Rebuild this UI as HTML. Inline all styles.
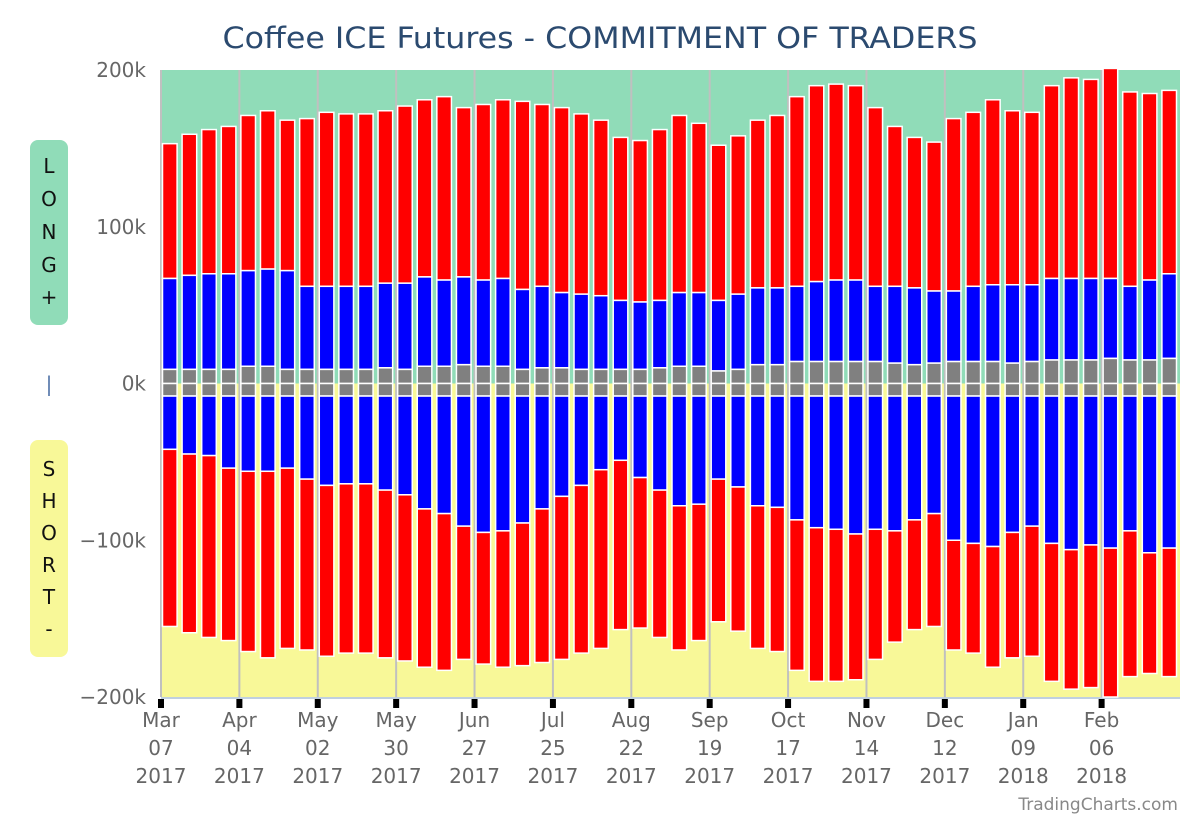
<!DOCTYPE html>
<html><head><meta charset="utf-8">
<style>
html,body{margin:0;padding:0;background:#fff;}
svg{display:block;font-family:"DejaVu Sans","Liberation Sans",sans-serif;}
</style></head>
<body>
<svg id="chart" width="1200" height="820" viewBox="0 0 1200 820">
<text x="600" y="48" text-anchor="middle" font-size="29" fill="#2b4a6f" textLength="755" lengthAdjust="spacingAndGlyphs" font-family="'DejaVu Sans Condensed','DejaVu Sans',sans-serif">Coffee ICE Futures - COMMITMENT OF TRADERS</text>
<g>
<rect x="30" y="140" width="38" height="185" rx="8" fill="#90dcb8"/>
<text x="49" font-size="20" fill="#111" text-anchor="middle"><tspan x="49" y="173">L</tspan><tspan x="49" y="206">O</tspan><tspan x="49" y="239">N</tspan><tspan x="49" y="272">G</tspan><tspan x="49" y="304">+</tspan></text>
</g>
<text x="49" y="391" font-size="20" fill="#5577aa" text-anchor="middle">|</text>
<g>
<rect x="30" y="440" width="38" height="217" rx="8" fill="#f8f898"/>
<text x="49" font-size="20" fill="#111" text-anchor="middle"><tspan x="49" y="476">S</tspan><tspan x="49" y="508">H</tspan><tspan x="49" y="540">O</tspan><tspan x="49" y="572">R</tspan><tspan x="49" y="604">T</tspan><tspan x="49" y="636">-</tspan></text>
</g>
<g id="plot"></g>
<text x="1178" y="810" font-size="17" fill="#888" text-anchor="end">TradingCharts.com</text>
</svg>
<script>
const longGray=[9,9,9,9,11,11,9,9,9,9,9,10,9,11,11,12,11,11,9,10,10,9,9,9,9,10,11,11,8,9,12,12,14,14,14,14,14,13,12,13,14,14,14,13,14,15,15,15,16,15,15,16];
const longBlue=[67,69,70,70,72,73,72,62,62,62,62,64,64,68,66,68,66,67,60,62,58,57,56,53,52,53,58,58,53,57,61,61,62,65,66,66,62,62,61,59,59,62,63,63,63,67,67,67,67,62,66,70];
const longRed=[153,159,162,164,171,174,168,169,173,172,172,174,177,181,183,176,178,181,180,178,176,172,168,157,155,162,171,166,152,158,168,171,183,190,191,190,176,164,157,154,169,173,181,174,173,190,195,194,201,186,185,187];
const shortGray=[-8,-8,-8,-8,-8,-8,-8,-8,-8,-8,-8,-8,-8,-8,-8,-8,-8,-8,-8,-8,-8,-8,-8,-8,-8,-8,-8,-8,-8,-8,-8,-8,-8,-8,-8,-8,-8,-8,-8,-8,-8,-8,-8,-8,-8,-8,-8,-8,-8,-8,-8,-8];
const shortBlue=[-42,-45,-46,-54,-56,-56,-54,-61,-65,-64,-64,-68,-71,-80,-83,-91,-95,-94,-89,-80,-72,-65,-55,-49,-60,-68,-78,-77,-61,-66,-78,-79,-87,-92,-93,-96,-93,-94,-87,-83,-100,-102,-104,-95,-91,-102,-106,-103,-105,-94,-108,-105];
const shortRed=[-155,-159,-162,-164,-171,-175,-169,-170,-174,-172,-172,-175,-177,-181,-183,-176,-179,-181,-180,-178,-176,-172,-169,-157,-156,-162,-170,-164,-152,-158,-169,-171,-183,-190,-190,-189,-176,-165,-157,-155,-170,-172,-181,-175,-174,-190,-195,-194,-200,-187,-185,-187];
const yTicks=[200,100,0,-100,-200];
const xTickIdx=[0,4,8,12,16,20,24,28,32,36,40,44,48];
const xTickMon=["Mar","Apr","May","May","Jun","Jul","Aug","Sep","Oct","Nov","Dec","Jan","Feb"];
const xTickDay=["07","04","02","30","27","25","22","19","17","14","12","09","06"];
const xTickYear=["2017","2017","2017","2017","2017","2017","2017","2017","2017","2017","2017","2018","2018"];

const NS="http://www.w3.org/2000/svg";
const plot=document.getElementById('plot');
const X0=161,X1=1180,Y0=70,Y1=697,N=longRed.length,band=(X1-X0)/N;
function y(v){return Y0+(200-v)*(Y1-Y0)/400;}
function xb(i){return X0+i*band;}
function mk(tag,attrs){const e=document.createElementNS(NS,tag);for(const k in attrs)e.setAttribute(k,attrs[k]);plot.appendChild(e);return e;}

let e=mk('rect',{x:X0,y:Y0,width:X1-X0,height:y(0)-Y0,fill:'#90dcb8'});


e=mk('rect',{x:X0,y:y(0),width:X1-X0,height:Y1-y(0),fill:'#f8f898'});


e=mk('line',{x1:X0,y1:Y0,x2:X0,y2:Y1,stroke:'#c0c0c0','stroke-width':2});


xTickIdx.forEach((ti,k)=>{
  const x=xb(ti);
  let g=mk('line',{x1:x,y1:Y0,x2:x,y2:Y1,stroke:'#c0c0c0','stroke-width':2});
  
  
  let t=mk('rect',{x:x-3,y:Y1+2,width:6,height:9,fill:'#000'});
  
  
  const lbl=mk('text',{x:x,'font-size':20,fill:'#666','text-anchor':'middle'});
  
  
  [xTickMon[k],xTickDay[k],xTickYear[k]].forEach((s,j)=>{
    const ts=document.createElementNS(NS,'tspan');ts.setAttribute('x',x);ts.setAttribute('y',727+j*28);ts.textContent=s;lbl.appendChild(ts);
  });
});
e=mk('line',{x1:X0,y1:Y1+1,x2:X1,y2:Y1+1,stroke:'#c0d0e0','stroke-width':2});


yTicks.forEach(v=>{
  const t=mk('text',{x:146,y:y(v)+7,'font-size':20,fill:'#666','text-anchor':'end'});
  t.textContent=(v<0?'\u2212':'')+Math.abs(v)+'k';
  
  
});
function seg(i,a,b,color,name){
  const top=y(Math.max(a,b)),bot=y(Math.min(a,b));
  const r=mk('rect',{x:xb(i)+1.5,y:top,width:band-5,height:Math.max(0,bot-top),fill:color,stroke:'#fff','stroke-width':1.5});
  
  
}
for(let i=0;i<N;i++){
  seg(i,longBlue[i],longRed[i],'#ff0000','long-noncommercial-bar');
  seg(i,longGray[i],longBlue[i],'#0000ff','long-commercial-bar');
  seg(i,0,longGray[i],'#808080','long-nonreportable-bar');
  seg(i,0,shortGray[i],'#808080','short-nonreportable-bar');
  seg(i,shortGray[i],shortBlue[i],'#0000ff','short-commercial-bar');
  seg(i,shortBlue[i],shortRed[i],'#ff0000','short-noncommercial-bar');
}
</script>
</body></html>
